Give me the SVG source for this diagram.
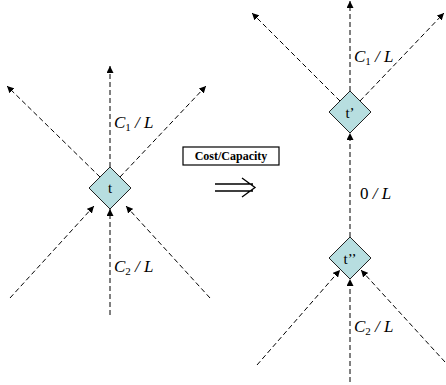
<svg xmlns="http://www.w3.org/2000/svg" width="446" height="385" viewBox="0 0 446 385">
<defs>
<marker id="ah" viewBox="0 0 10 10" refX="10" refY="5" markerWidth="7" markerHeight="7" markerUnits="userSpaceOnUse" orient="auto">
<path d="M0,0 L10,5 L0,10 z" fill="#000"/>
</marker>
<style>
.e{stroke:#000;stroke-width:1;stroke-dasharray:5,3;fill:none;marker-end:url(#ah)}
.d{fill:#b7dee0;stroke:#222;stroke-width:1}
.nt{font-family:"Liberation Serif",serif;font-size:15px;text-anchor:middle}
.lb{font-family:"Liberation Serif",serif;font-size:17px;font-style:italic}
.sb{font-size:11px;font-style:normal}
.up{font-style:normal}
</style>
</defs>
<rect width="446" height="385" fill="#fff"/>
<g id="connectors">
<path class="e" d="M110,167 L110,66"/>
<path class="e" d="M100,177 L7,86"/>
<path class="e" d="M120,177 L206,86"/>
<path class="e" d="M10,298 L94,206"/>
<path class="e" d="M210,298 L126,206"/>
<path class="e" d="M110,315 L110,209"/>
<path class="e" d="M350,91 L350,1"/>
<path class="e" d="M340,101 L252,13"/>
<path class="e" d="M360,101 L444,13"/>
<path class="e" d="M350,237 L350,133"/>
<path class="e" d="M257,365 L340,270"/>
<path class="e" d="M445,362 L361,270"/>
<path class="e" d="M350,382 L350,279"/>
</g>
<g id="t">
<path class="d" d="M110,167 L131,188 L110,209 L89,188 z"/>
<text class="nt" x="110" y="193">t</text>
</g>
<g id="t1">
<path class="d" d="M350,91 L371,112 L350,133 L329,112 z"/>
<text class="nt" x="350" y="118">t’</text>
</g>
<g id="t2">
<path class="d" d="M350,237 L371,258 L350,279 L329,258 z"/>
<text class="nt" x="350" y="264">t’’</text>
</g>
<g id="labels">
<text class="lb" x="114" y="128">C<tspan class="sb" dy="3">1</tspan><tspan dy="-3"> / L</tspan></text>
<text class="lb" x="114" y="272">C<tspan class="sb" dy="3">2</tspan><tspan dy="-3"> / L</tspan></text>
<text class="lb" x="354" y="62">C<tspan class="sb" dy="3">1</tspan><tspan dy="-3"> / L</tspan></text>
<text class="lb" x="354" y="332">C<tspan class="sb" dy="3">2</tspan><tspan dy="-3"> / L</tspan></text>
<text class="lb" x="360" y="199"><tspan class="up">0</tspan> / L</text>
</g>
<g id="cost">
<rect x="183" y="147" width="96" height="18" fill="#fff" stroke="#000" stroke-width="1.2"/>
<text x="231" y="160" font-family="Liberation Serif,serif" font-size="12" font-weight="bold" text-anchor="middle">Cost/Capacity</text>
<path d="M215,184 L253,184 M215,191 L253,191 M242,178 L255,187.5 L242,197" fill="none" stroke="#000" stroke-width="1.3"/>
</g>
</svg>
